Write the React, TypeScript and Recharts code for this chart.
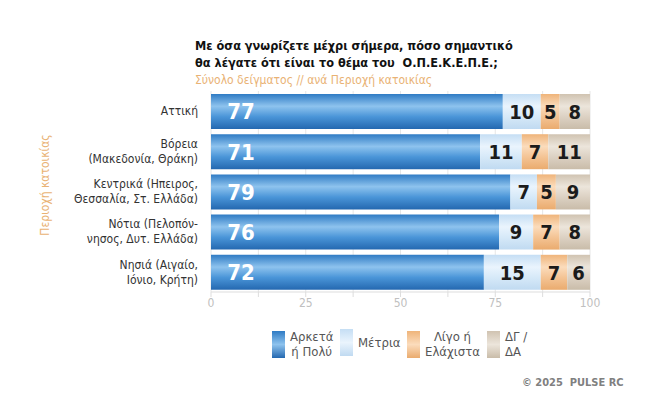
import { BarChart, Bar, XAxis, YAxis, CartesianGrid, LabelList } from "recharts";

const regions = [
    "Αττική",
    "Βόρεια|(Μακεδονία, Θράκη)",
    "Κεντρικά (Ηπειρος,|Θεσσαλία, Στ. Ελλάδα)",
    "Νότια (Πελοπόν-|νησος, Δυτ. Ελλάδα)",
    "Νησιά (Αιγαίο,|Ιόνιο, Κρήτη)",
];
const arketa = [77, 71, 79, 76, 72];
const metria = [10, 11, 7, 9, 15];
const ligo = [5, 7, 5, 7, 7];
const dgda = [8, 11, 9, 8, 6];
const xTicks = [0, 12.5, 25, 37.5, 50, 62.5, 75, 87.5, 100];

const font = "'Liberation Sans Narrow', 'DejaVu Sans Condensed', Roboto, sans-serif";

const data = regions.map((r, i) => ({
    region: r,
    arketa: arketa[i],
    metria: metria[i],
    ligo: ligo[i],
    dgda: dgda[i],
}));

const gradients = [
    { id: "gArketa", top: "#2f7bc4", mid: "#8ec3ee", low: "#4a95d8", bot: "#2468b0" },
    { id: "gMetria", top: "#c5def4", mid: "#eaf4fd", low: "#d6e9f8", bot: "#c0daf1" },
    { id: "gLigo", top: "#efb47a", mid: "#fbdcbc", low: "#f4c495", bot: "#eaab6e" },
    { id: "gDgda", top: "#d0c3b1", mid: "#ece5db", low: "#dcd1c3", bot: "#c9bca9" },
];

const CatTick = (props: any) => {
    const { x, y, payload } = props;
    const lines = String(payload.value).split("|");
    const lh = 15;
    const start = y - ((lines.length - 1) * lh) / 2;
    return (
        <text x={x - 5} y={start} textAnchor="end" fontFamily={font} fontSize={12} fill="#333">
            {lines.map((l: string, i: number) => (
                <tspan key={i} x={x - 5} y={start + i * lh} dy="0.35em">
                    {l}
                </tspan>
            ))}
        </text>
    );
};

const XTick = (props: any) => {
    const { x, y, payload } = props;
    if (payload.value % 25 !== 0) return null;
    return (
        <text x={x} y={y + 8} textAnchor="middle" fontFamily={font} fontSize={12} fill="#c0c0c0">
            {payload.value}
        </text>
    );
};

const darkLabel = (props: any) => {
    const { x, y, width, height, value } = props;
    return (
        <text
            x={x + width / 2}
            y={y + height / 2}
            dy="0.36em"
            textAnchor="middle"
            fontFamily={font}
            fontWeight="bold"
            fontSize={20}
            fill="#1b1b1b"
        >
            {value}
        </text>
    );
};

const whiteLabel = (props: any) => {
    const { x, y, height, value } = props;
    return (
        <text
            x={x + 30}
            y={y + height / 2}
            dy="0.36em"
            textAnchor="middle"
            fontFamily={font}
            fontWeight="bold"
            fontSize={22}
            fill="#ffffff"
        >
            {value}
        </text>
    );
};

const legendItems = [
    { label: ["Αρκετά", "ή Πολύ"], g: gradients[0], x: 272, align: "center" as const },
    { label: ["Μέτρια"], g: gradients[1], x: 340, align: "center" as const },
    { label: ["Λίγο ή", "Ελάχιστα"], g: gradients[2], x: 407, align: "center" as const },
    { label: ["ΔΓ /", "ΔΑ"], g: gradients[3], x: 487, align: "left" as const },
];

const App = () => {
    return (
        <div style={{ position: "absolute", left: 0, top: 0, width: 650, height: 396, background: "#fff", fontFamily: font }}>
            <div style={{ position: "absolute", left: 195, top: 37, fontSize: 12.6, fontWeight: "bold", color: "#111", lineHeight: "17px" }}>
                <div>Με όσα γνωρίζετε μέχρι σήμερα, πόσο σημαντικό</div>
                <div>θα λέγατε ότι είναι το θέμα του&nbsp; Ο.Π.Ε.Κ.Ε.Π.Ε.;</div>
            </div>
            <div style={{ position: "absolute", left: 195, top: 73, fontSize: 12, color: "#e9b274" }}>
                Σύνολο δείγματος // ανά Περιοχή κατοικίας
            </div>
            <div
                style={{
                    position: "absolute",
                    left: 45,
                    top: 185,
                    transform: "translate(-50%, -50%) rotate(-90deg)",
                    whiteSpace: "nowrap",
                    fontSize: 12,
                    color: "#e9b274",
                }}
            >
                Περιοχή κατοικίας
            </div>
            <BarChart
                width={650}
                height={396}
                data={data}
                layout="vertical"
                barSize={35}
                margin={{ top: 91, right: 60, bottom: 74, left: 11 }}
            >
                <defs>
                    {gradients.map((g) => (
                        <linearGradient key={g.id} id={g.id} x1="0" y1="0" x2="0" y2="1">
                            <stop offset="0%" stopColor={g.top} />
                            <stop offset="35%" stopColor={g.mid} />
                            <stop offset="65%" stopColor={g.low} />
                            <stop offset="100%" stopColor={g.bot} />
                        </linearGradient>
                    ))}
                </defs>
                <CartesianGrid horizontal={false} stroke="#e6e6e6" />
                <XAxis
                    type="number"
                    domain={[0, 100]}
                    ticks={xTicks}
                    tick={<XTick />}
                    stroke="#dddddd"
                    tickSize={5}
                    height={30}
                />
                <YAxis
                    type="category"
                    dataKey="region"
                    width={200}
                    tick={<CatTick />}
                    axisLine={false}
                    tickLine={false}
                />
                <Bar dataKey="arketa" stackId="a" fill="url(#gArketa)" isAnimationActive={false}>
                    <LabelList dataKey="arketa" content={whiteLabel} />
                </Bar>
                <Bar dataKey="metria" stackId="a" fill="url(#gMetria)" isAnimationActive={false}>
                    <LabelList dataKey="metria" content={darkLabel} />
                </Bar>
                <Bar dataKey="ligo" stackId="a" fill="url(#gLigo)" isAnimationActive={false}>
                    <LabelList dataKey="ligo" content={darkLabel} />
                </Bar>
                <Bar dataKey="dgda" stackId="a" fill="url(#gDgda)" isAnimationActive={false}>
                    <LabelList dataKey="dgda" content={darkLabel} />
                </Bar>
            </BarChart>
            {legendItems.map((it) => (
                <div key={it.label.join()} style={{ position: "absolute", left: it.x, top: 329, display: "flex", alignItems: "center" }}>
                    <div
                        style={{
                            width: 13,
                            height: 27,
                            background: `linear-gradient(to bottom, ${it.g.top}, ${it.g.mid}, ${it.g.bot})`,
                        }}
                    />
                    <div style={{ marginLeft: 5, fontSize: 13, lineHeight: "15px", color: "#555", textAlign: it.align }}>
                        {it.label.map((l) => (
                            <div key={l}>{l}</div>
                        ))}
                    </div>
                </div>
            ))}
            <div style={{ position: "absolute", left: 522, top: 376, fontSize: 11, fontWeight: "bold", color: "#808080" }}>
                © 2025&nbsp; PULSE RC
            </div>
        </div>
    );
};

export default App;
